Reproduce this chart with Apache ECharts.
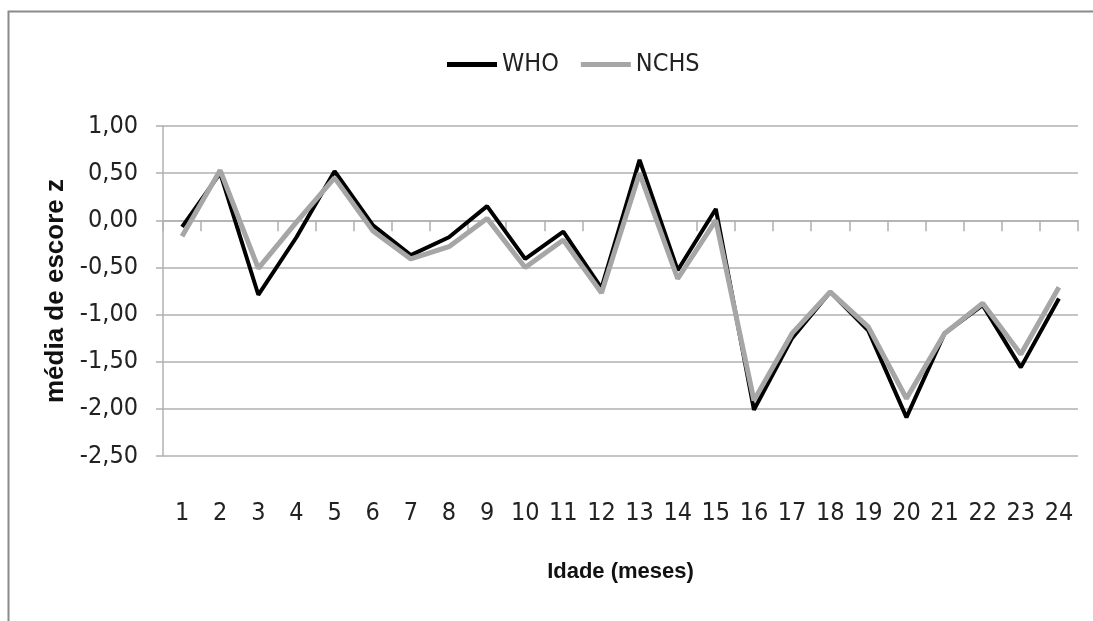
<!DOCTYPE html>
<html>
<head>
<meta charset="utf-8">
<script src="https://cdn.jsdelivr.net/npm/echarts@6/dist/echarts.min.js"></script>
<style>
  html, body { margin: 0; padding: 0; background: #fff; }
  #chart { width: 1093px; height: 621px; }
</style>
</head>
<body>
<div id="chart"></div>
<script>
const categories = ['1','2','3','4','5','6','7','8','9','10','11','12','13','14','15','16','17','18','19','20','21','22','23','24'];
const whoValues  = [-0.07, 0.50, -0.79, -0.18, 0.52, -0.05, -0.37, -0.18, 0.15, -0.41, -0.12, -0.72, 0.64, -0.53, 0.12, -2.01, -1.25, -0.76, -1.17, -2.09, -1.20, -0.90, -1.56, -0.83];
const nchsValues = [-0.17, 0.53, -0.51, -0.02, 0.45, -0.11, -0.41, -0.28, 0.02, -0.50, -0.21, -0.77, 0.50, -0.62, 0.00, -1.91, -1.20, -0.76, -1.13, -1.89, -1.20, -0.88, -1.42, -0.71];
const yTicks = { min: -2.5, max: 1.0, interval: 0.5 };
const seriesNames = ['WHO', 'NCHS'];

const narrow = "'Liberation Sans Narrow', 'DejaVu Sans Condensed', 'Liberation Sans', sans-serif";
const wide = "'Liberation Sans', Arial, sans-serif";
const gridColor = '#b0b0b0';

const chart = echarts.init(document.getElementById('chart'), null, { renderer: 'canvas' });
chart.setOption({
  animation: false,
  backgroundColor: '#ffffff',
  graphic: [
    { type: 'polyline', silent: true, z: 100,
      shape: { points: [[8.5, 700], [8.5, 11.5], [1200, 11.5]] },
      style: { stroke: '#8a8a8a', lineWidth: 2, fill: null } }
  ],
  legend: {
    left: 442, top: 47,
    icon: 'rect',
    itemWidth: 50, itemHeight: 5, itemGap: 22,
    textStyle: { fontFamily: narrow, fontSize: 25, color: '#222' },
    data: seriesNames
  },
  grid: { left: 163, right: 15, top: 126, bottom: 165, containLabel: false },
  xAxis: [
    {
      type: 'category', data: categories, boundaryGap: true,
      axisLine: { onZero: true, lineStyle: { color: gridColor, width: 1.5 } },
      axisTick: { show: true, length: 11, lineStyle: { color: gridColor, width: 1.5 } },
      axisLabel: { show: false },
      splitLine: { show: false }
    },
    {
      type: 'category', data: categories, boundaryGap: true, position: 'bottom',
      axisLine: { show: false, onZero: false },
      axisTick: { show: false },
      axisLabel: { margin: 45, fontFamily: narrow, fontSize: 25, color: '#222' },
      name: 'Idade (meses)', nameLocation: 'middle', nameGap: 105,
      nameTextStyle: { fontFamily: wide, fontSize: 22, fontWeight: 'bold', color: '#111' }
    }
  ],
  yAxis: {
    type: 'value', min: yTicks.min, max: yTicks.max, interval: yTicks.interval,
    axisLine: { show: true, lineStyle: { color: gridColor, width: 1.5 } },
    axisTick: { show: true, length: 7, lineStyle: { color: gridColor, width: 1.5 } },
    splitLine: { show: true, lineStyle: { color: gridColor, width: 1.5 } },
    axisLabel: {
      margin: 25, fontFamily: narrow, fontSize: 25, color: '#222',
      formatter: v => v.toFixed(2).replace('.', ',')
    },
    name: 'média de escore z', nameLocation: 'middle', nameGap: 92, nameRotate: 90,
    nameTextStyle: { fontFamily: wide, fontSize: 26, fontWeight: 'bold', color: '#111' }
  },
  series: [
    { name: seriesNames[0], type: 'line', data: whoValues, xAxisIndex: 0,
      symbol: 'none', lineStyle: { color: '#000000', width: 4 }, itemStyle: { color: '#000000' }, z: 3 },
    { name: seriesNames[1], type: 'line', data: nchsValues, xAxisIndex: 0,
      symbol: 'none', lineStyle: { color: '#a6a6a6', width: 5 }, itemStyle: { color: '#a6a6a6' }, z: 4 }
  ]
});
</script>
</body>
</html>
